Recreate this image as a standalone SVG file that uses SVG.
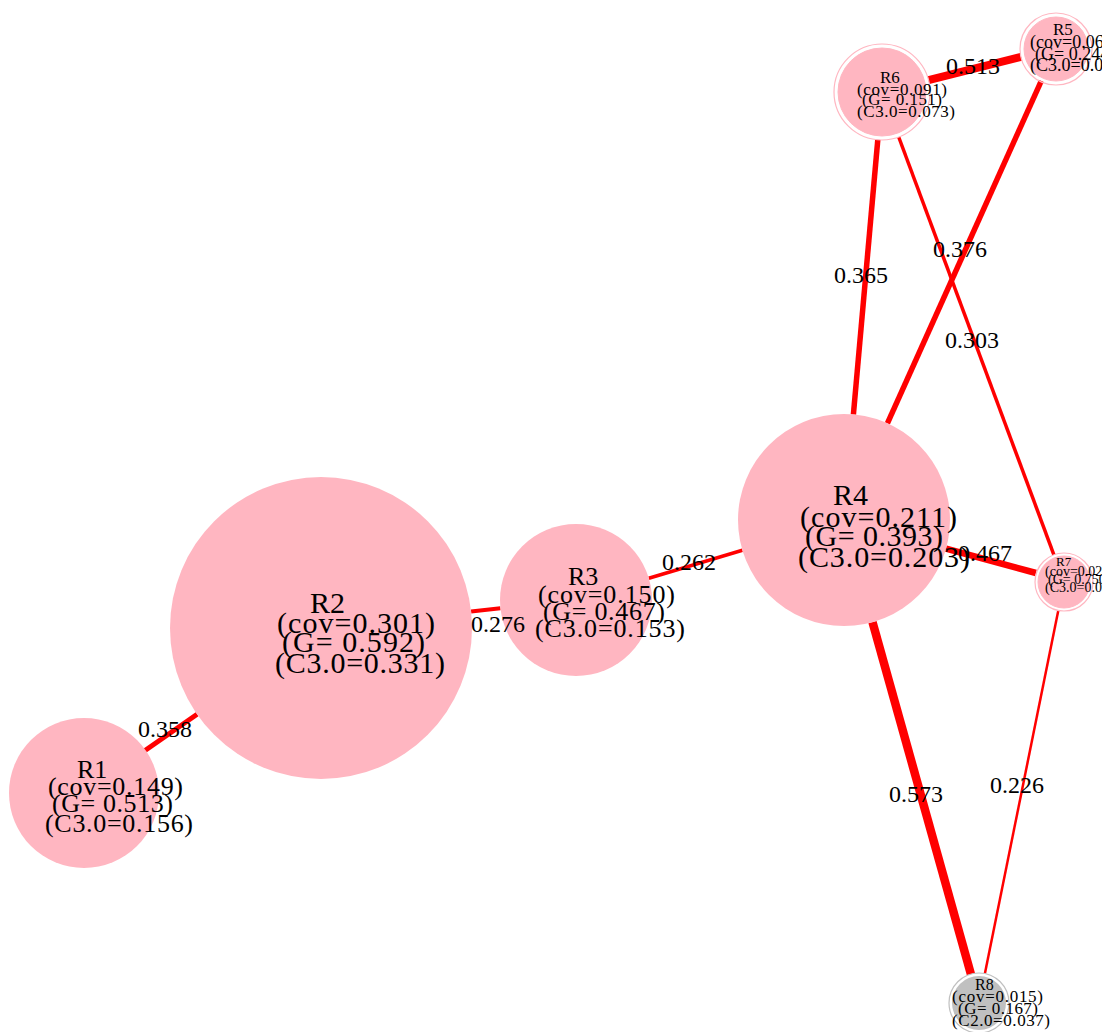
<svg xmlns="http://www.w3.org/2000/svg" width="1102" height="1032" viewBox="0 0 1102 1032">
<style>
text{font-family:"Liberation Serif","Times New Roman",serif;fill:#000}
.n{fill:#FFB6C1}
.ring{fill:none;stroke:#FFB6C1;stroke-width:1.2}
.in{fill:#FFB6C1;stroke:#FFB6C1;stroke-width:1}
.g{fill:#C0C0C0}
.gring{fill:none;stroke:#C0C0C0;stroke-width:1.2}
.e{stroke:#FF0000;stroke-linecap:butt;fill:none}
.el{font-size:24px;text-anchor:middle}
</style>
<rect width="1102" height="1032" fill="#fff"/>
<g id="connectors">
<line class="e" x1="144.7" y1="750.7" x2="197.1" y2="714.3" stroke-width="5"/>
<line class="e" x1="471.1" y1="611.5" x2="500.4" y2="608.3" stroke-width="4"/>
<line class="e" x1="648.8" y1="578.3" x2="742.4" y2="550.3" stroke-width="3.5"/>
<line class="e" x1="853.4" y1="414.4" x2="877.8" y2="139.8" stroke-width="5.5"/>
<line class="e" x1="887.4" y1="423.3" x2="1041.3" y2="80.8" stroke-width="5.5"/>
<line class="e" x1="898.7" y1="137" x2="1053.9" y2="554.8" stroke-width="3.5"/>
<line class="e" x1="928.5" y1="80.2" x2="1021.1" y2="56.8" stroke-width="8"/>
<line class="e" x1="946" y1="548.7" x2="1036" y2="573" stroke-width="6.5"/>
<line class="e" x1="872.5" y1="622.1" x2="970.9" y2="974.1" stroke-width="8.5"/>
<line class="e" x1="1058.3" y1="610.4" x2="984.9" y2="973.6" stroke-width="2.5"/>
</g>
<g id="R1">
<circle class="n" cx="84" cy="793" r="75"/>
<text x="77" y="778" font-size="26">R1</text>
<text x="48" y="795" font-size="26" textLength="135">(cov=0.149)</text>
<text x="52" y="812" font-size="26" textLength="121">(G= 0.513)</text>
<text x="45" y="832" font-size="26" textLength="148">(C3.0=0.156)</text>
</g>
<g id="R2">
<circle class="n" cx="321" cy="628" r="151"/>
<text x="310" y="613" font-size="30">R2</text>
<text x="277" y="633" font-size="30" textLength="158">(cov=0.301)</text>
<text x="282" y="652" font-size="30" textLength="143">(G= 0.592)</text>
<text x="275" y="673" font-size="30" textLength="170">(C3.0=0.331)</text>
</g>
<g id="R3">
<circle class="n" cx="576" cy="600" r="76"/>
<text x="568" y="585" font-size="26">R3</text>
<text x="538" y="603" font-size="26" textLength="137">(cov=0.150)</text>
<text x="543" y="620" font-size="26" textLength="122">(G= 0.467)</text>
<text x="535" y="637" font-size="26" textLength="150">(C3.0=0.153)</text>
</g>
<g id="R4">
<circle class="n" cx="844" cy="520" r="106"/>
<text x="833" y="505" font-size="30">R4</text>
<text x="800" y="527" font-size="30" textLength="157">(cov=0.211)</text>
<text x="805" y="546" font-size="30" textLength="138">(G= 0.393)</text>
<text x="798" y="567" font-size="30" textLength="172">(C3.0=0.203)</text>
</g>
<g id="R5">
<circle class="ring" cx="1056" cy="49" r="36"/>
<circle class="in" cx="1056" cy="49" r="32"/>
<text x="1053" y="35" font-size="17">R5</text>
<text x="1030" y="48" font-size="18">(cov=0.066)</text>
<text x="1035" y="60" font-size="18">(G= 0.244)</text>
<text x="1030" y="71" font-size="18">(C3.0=0.033)</text>
</g>
<g id="R6">
<circle class="ring" cx="882" cy="92" r="48"/>
<circle class="in" cx="882" cy="92" r="44"/>
<text x="880" y="83" font-size="17">R6</text>
<text x="857" y="95" font-size="17" textLength="90">(cov=0.091)</text>
<text x="862" y="105" font-size="17" textLength="80">(G= 0.151)</text>
<text x="857" y="117" font-size="17" textLength="98">(C3.0=0.073)</text>
</g>
<g id="R7">
<circle class="ring" cx="1064" cy="582" r="29"/>
<circle class="in" cx="1064" cy="582" r="26"/>
<text x="1056" y="566" font-size="13">R7</text>
<text x="1045" y="576" font-size="14">(cov=0.022)</text>
<text x="1048" y="584" font-size="14">(G= 0.750)</text>
<text x="1045" y="592" font-size="14">(C3.0=0.017)</text>
</g>
<g id="R8">
<circle class="gring" cx="979" cy="1003" r="30"/>
<circle class="g" cx="979" cy="1003" r="27"/>
<text x="975" y="990" font-size="16">R8</text>
<text x="952" y="1002" font-size="17" textLength="91">(cov=0.015)</text>
<text x="958" y="1014" font-size="17" textLength="80">(G= 0.167)</text>
<text x="952" y="1026" font-size="17" textLength="98">(C2.0=0.037)</text>
</g>
<g id="edge-labels">
<text class="el" x="165" y="737">0.358</text>
<text class="el" x="498" y="632">0.276</text>
<text class="el" x="689" y="570">0.262</text>
<text class="el" x="861" y="283">0.365</text>
<text class="el" x="960" y="257">0.376</text>
<text class="el" x="972" y="348">0.303</text>
<text class="el" x="973" y="74">0.513</text>
<text class="el" x="985" y="561">0.467</text>
<text class="el" x="916" y="802">0.573</text>
<text class="el" x="1017" y="793">0.226</text>
</g>
</svg>
